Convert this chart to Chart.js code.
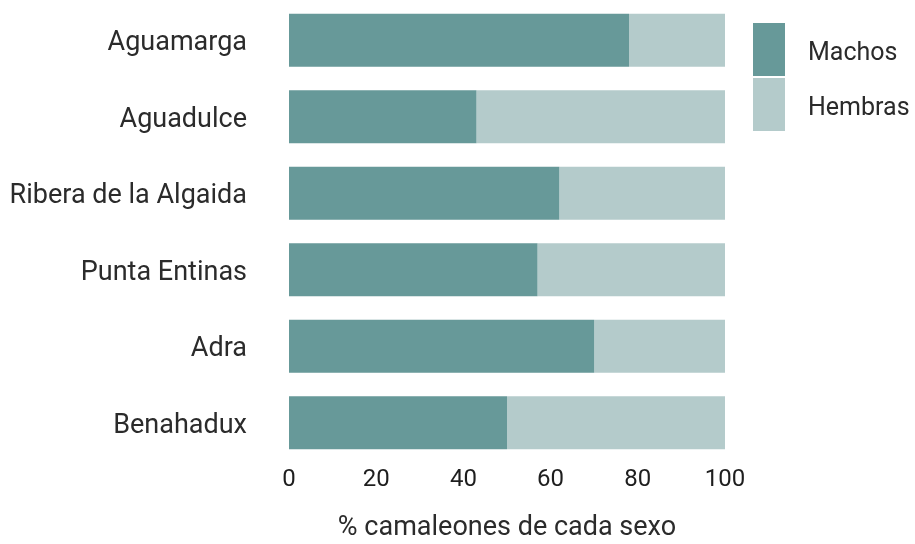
<!DOCTYPE html>
<html>
<head>
<meta charset="utf-8">
<script src="https://cdn.jsdelivr.net/npm/chart.js@4.4.0/dist/chart.umd.min.js"></script>
<style>
html,body{margin:0;padding:0;background:#fff;}
#wrap{width:915px;height:544px;position:relative;}
</style>
</head>
<body>
<div id="wrap"><canvas id="c" width="915" height="544"></canvas></div>
<script>
const categories = ["Aguamarga","Aguadulce","Ribera de la Algaida","Punta Entinas","Adra","Benahadux"];
const machos  = [78, 43, 62, 57, 70, 50];
const hembras = [22, 57, 38, 43, 30, 50];
const seriesNames = ["Machos","Hembras"];
const xTicks = [0,20,40,60,80,100];
const axisTitle = "% camaleones de cada sexo";

const FONT = 'Roboto,"Liberation Sans",sans-serif';
const colMachos = "#679999";
const colHembras = "#b4cbcb";
const textCol = "#2b2b2b";

const legendPlugin = {
  id: 'customLegend',
  afterDraw(chart) {
    const ctx = chart.ctx;
    const bx = 753, bw = 32, bh = 53;
    const tops = [23, 78];
    ctx.save();
    chart.data.datasets.forEach((ds, i) => {
      ctx.fillStyle = ds.backgroundColor;
      ctx.fillRect(bx, tops[i], bw, bh);
      ctx.fillStyle = textCol;
      ctx.font = "25px " + FONT;
      ctx.textBaseline = "middle";
      ctx.textAlign = "left";
      ctx.fillText(ds.label, 808, tops[i] + bh/2 + 4);
    });
    ctx.restore();
  }
};

new Chart(document.getElementById('c'), {
  type: 'bar',
  data: {
    labels: categories,
    datasets: [
      { label: seriesNames[0], data: machos, backgroundColor: colMachos },
      { label: seriesNames[1], data: hembras, backgroundColor: colHembras }
    ]
  },
  options: {
    indexAxis: 'y',
    responsive: false,
    animation: false,
    layout: { padding: { top: 2, right: 190, left: 0, bottom: 0 } },
    datasets: { bar: { categoryPercentage: 1.0, barPercentage: 0.69 } },
    plugins: { legend: { display: false }, tooltip: { enabled: false } },
    scales: {
      x: {
        stacked: true,
        min: 0, max: 100,
        afterBuildTicks: (axis) => { axis.ticks = xTicks.map(v => ({ value: v })); },
        grid: { display: false, drawTicks: true, tickLength: 4 },
        border: { display: false },
        ticks: { color: "#1e1e1e", font: { family: FONT, size: 24 }, padding: 1 },
        title: { display: true, text: axisTitle, color: textCol, font: { family: FONT, size: 27 }, padding: { top: 12, bottom: 0 } },
        afterFit: (axis) => { axis.height = 83; axis.paddingLeft = 0; }
      },
      y: {
        stacked: true,
        grid: { display: false, drawTicks: true, tickLength: 42 },
        border: { display: false },
        ticks: { color: textCol, font: { family: FONT, size: 27 }, padding: 0, labelOffset: 3 },
        afterFit: (axis) => { axis.width = 289; axis.paddingTop = 0; axis.paddingBottom = 0; }
      }
    }
  },
  plugins: [legendPlugin]
});
</script>
</body>
</html>
